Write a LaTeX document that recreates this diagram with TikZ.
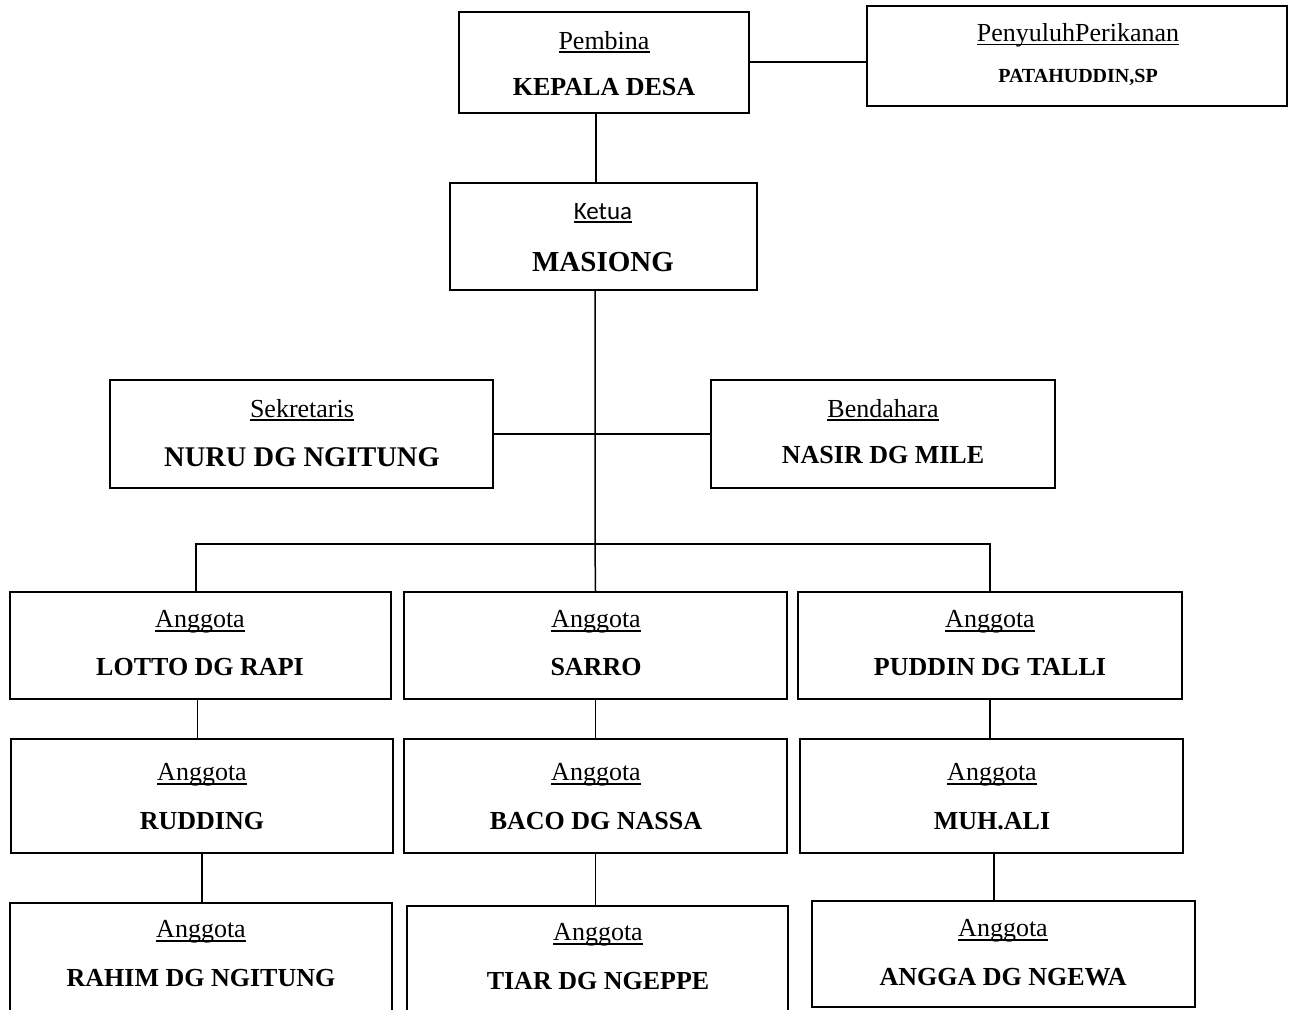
\documentclass[tikz,border=0pt]{standalone}
\usepackage{fontspec}
\setmainfont{Liberation Serif}
\newfontfamily\carl{Carlito}
\newcommand{\myul}[1]{\setbox0\hbox{#1}\rlap{\raisebox{-4pt}{\rule{\wd0}{1.6pt}}}\box0}
\begin{document}
\begin{tikzpicture}[x=1pt,y=-1pt,
  orgbox/.style={draw, line width=1.8pt, inner sep=0pt},
  conn/.style={line width=1.5pt},
  roletxt/.style={inner sep=0pt, yshift=-2pt, font=\fontsize{26}{30}\selectfont},
  nametxt/.style={inner sep=0pt, yshift=-1pt, font=\fontsize{26}{30}\selectfont\bfseries}]
\useasboundingbox (0,0) rectangle (1289,1009);
\clip (0,0) rectangle (1289,1009);
% boxes
\node[orgbox, minimum width=290pt, minimum height=101pt] (pemb) at (604,62.5) {};
\node[orgbox, minimum width=420pt, minimum height=100pt] (peny) at (1077,56) {};
\node[orgbox, minimum width=307pt, minimum height=107pt] (ketua) at (603.5,236.5) {};
\node[orgbox, minimum width=383pt, minimum height=108pt] (sek) at (301.5,434) {};
\node[orgbox, minimum width=344pt, minimum height=108pt] (bend) at (883,434) {};
\node[orgbox, minimum width=381pt, minimum height=107pt] (r1a) at (200.5,645.5) {};
\node[orgbox, minimum width=383pt, minimum height=107pt] (r1b) at (595.5,645.5) {};
\node[orgbox, minimum width=384pt, minimum height=107pt] (r1c) at (990,645.5) {};
\node[orgbox, minimum width=382pt, minimum height=114pt] (r2a) at (202,796) {};
\node[orgbox, minimum width=383pt, minimum height=114pt] (r2b) at (595.5,796) {};
\node[orgbox, minimum width=383pt, minimum height=114pt] (r2c) at (991.5,796) {};
\node[orgbox, minimum width=382pt, minimum height=117pt] (r3a) at (201,961.5) {};
\node[orgbox, minimum width=381pt, minimum height=114pt] (r3b) at (597.5,963) {};
\node[orgbox, minimum width=383pt, minimum height=106pt] (r3c) at (1003.5,954) {};
% texts
\node[roletxt] (pembT) at (604,40) {\myul{Pembina}};
\node[nametxt] (pembN) at (604,86) {KEPALA DESA};
\node[roletxt] (penyT) at (1078,33) {\myul{PenyuluhPerikanan}};
\node[nametxt, font=\fontsize{20}{24}\selectfont\bfseries] (penyN) at (1078,76) {PATAHUDDIN,SP};
\node[roletxt, font=\fontsize{25}{30}\selectfont\carl] (ketuaT) at (603,211) {\myul{Ketua}};
\node[nametxt, font=\fontsize{29}{34}\selectfont\bfseries] (ketuaN) at (603,261) {MASIONG};
\node[roletxt] (sekT) at (302,408) {\myul{Sekretaris}};
\node[nametxt, font=\fontsize{28.5}{34}\selectfont\bfseries] (sekN) at (302,456) {NURU DG NGITUNG};
\node[roletxt] (bendT) at (883,408) {\myul{Bendahara}};
\node[nametxt] (bendN) at (883,454) {NASIR DG MILE};
\node[roletxt] (r1aT) at (200,620) {\myul{Anggota}};
\node[nametxt] (r1aN) at (200,666) {LOTTO DG RAPI};
\node[roletxt] (r1bT) at (596,620) {\myul{Anggota}};
\node[nametxt] (r1bN) at (596,666) {SARRO};
\node[roletxt] (r1cT) at (990,620) {\myul{Anggota}};
\node[nametxt] (r1cN) at (990,666) {PUDDIN DG TALLI};
\node[roletxt] (r2aT) at (202,773) {\myul{Anggota}};
\node[nametxt] (r2aN) at (202,820) {RUDDING};
\node[roletxt] (r2bT) at (596,773) {\myul{Anggota}};
\node[nametxt] (r2bN) at (596,820) {BACO DG NASSA};
\node[roletxt] (r2cT) at (992,773) {\myul{Anggota}};
\node[nametxt] (r2cN) at (992,820) {MUH.ALI};
\node[roletxt] (r3aT) at (201,930) {\myul{Anggota}};
\node[nametxt] (r3aN) at (201,977) {RAHIM DG NGITUNG};
\node[roletxt] (r3bT) at (598,933) {\myul{Anggota}};
\node[nametxt] (r3bN) at (598,980) {TIAR DG NGEPPE};
\node[roletxt] (r3cT) at (1003,929) {\myul{Anggota}};
\node[nametxt] (r3cN) at (1003,976) {ANGGA DG NGEWA};
% connectors
\coordinate (jn) at (595,544);
\coordinate (bl) at (196,544);
\coordinate (br) at (990,544);
\draw[conn, line width=1.8pt] ([yshift=0.5pt]pemb.east) -- ([yshift=0.5pt]pemb.east -| peny.west);
\draw[conn, line width=1.8pt] ([xshift=-8pt]pemb.south) -- ([xshift=-8pt]pemb.south |- ketua.north);
\draw[conn] (ketua.south -| jn) -- (jn) -- (r1b.north);
\draw[conn] (sek.east) -- (bend.west);
\draw[conn, line width=1.8pt] (r1a.north -| bl) -- (bl) -- (br) -- (r1c.north);
\draw[conn] ([xshift=-3pt]r1a.south) -- ([xshift=-3pt]r1a.south |- r2a.north);
\draw[conn] (r1b.south) -- (r1b.south |- r2b.north);
\draw[conn] (r1c.south) -- (r1c.south |- r2c.north);
\draw[conn] (r2a.south) -- (r2a.south |- r3a.north);
\draw[conn] (r2b.south) -- (r2b.south |- r3b.north);
\draw[conn] ([xshift=2.5pt]r2c.south) -- ([xshift=2.5pt]r2c.south |- r3c.north);
\end{tikzpicture}
\end{document}
